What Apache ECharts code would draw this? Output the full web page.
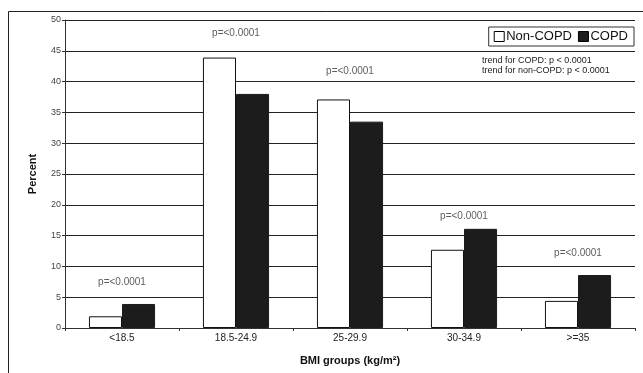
<!DOCTYPE html>
<html><head><meta charset="utf-8">
<script src="https://cdn.jsdelivr.net/npm/echarts@6/dist/echarts.min.js"></script>
<style>html,body{margin:0;padding:0;background:#fff}#c{width:643px;height:373px}</style>
</head><body><div id="c"></div>
<script>
const categories = ['<18.5', '18.5-24.9', '25-29.9', '30-34.9', '>=35'];
const nonCopd = [1.9, 43.9, 37.1, 12.7, 4.4];
const copd = [3.9, 38.0, 33.5, 16.1, 8.6];
const pLabels = ['p=<0.0001', 'p=<0.0001', 'p=<0.0001', 'p=<0.0001', 'p=<0.0001'];
const pLabelY = [7.4, 47.8, 41.7, 18.2, 12.2];
const yTicks = [0, 5, 10, 15, 20, 25, 30, 35, 40, 45, 50];
const trendLines = ['trend for COPD: p < 0.0001', 'trend for non-COPD: p < 0.0001'];

const font = 'Liberation Sans, Arial, sans-serif';
const chart = echarts.init(document.getElementById('c'), null, {renderer: 'canvas'});
chart.setOption({
  animation: false,
  backgroundColor: '#fff',
  textStyle: {fontFamily: font},
  grid: {left: 65, right: 8, top: 20, bottom: 45},
  legend: {
    data: ['Non-COPD', 'COPD'],
    right: 9, top: 27,
    padding: [3, 6, 3, 5],
    itemGap: 6,
    itemWidth: 10, itemHeight: 10,
    itemStyle: {borderColor: '#000', borderWidth: 1},
    icon: 'rect',
    borderColor: '#333', borderWidth: 1,
    textStyle: {fontSize: 13, color: '#111', fontFamily: font, padding: [0, 0, 0, -3]}
  },
  xAxis: {
    type: 'category', data: categories,
    name: 'BMI groups (kg/m²)', nameLocation: 'middle', nameGap: 27,
    nameTextStyle: {fontSize: 11, fontWeight: 'bold', color: '#111', fontFamily: font},
    axisLine: {lineStyle: {color: '#333'}},
    axisTick: {show: true, length: 3, lineStyle: {color: '#333'}},
    axisLabel: {fontSize: 10, color: '#222', margin: 5, fontFamily: font}
  },
  yAxis: {
    type: 'value', min: 0, max: 50, interval: 5,
    name: 'Percent', nameLocation: 'middle', nameGap: 27, nameRotate: 90,
    nameTextStyle: {fontSize: 11, fontWeight: 'bold', color: '#111', fontFamily: font},
    axisLine: {show: true, lineStyle: {color: '#333'}},
    axisTick: {show: true, length: 3, lineStyle: {color: '#333'}},
    axisLabel: {fontSize: 9, color: '#444', margin: 4, fontFamily: font,
      formatter: v => yTicks.includes(v) ? String(v) : ''},
    splitLine: {lineStyle: {color: '#222', width: 1}}
  },
  series: [
    {name: 'Non-COPD', type: 'bar', data: nonCopd, barGap: '0%', barCategoryGap: '42%',
      itemStyle: {color: '#fff', borderColor: '#111', borderWidth: 1}},
    {name: 'COPD', type: 'bar', data: copd,
      itemStyle: {color: '#1c1c1c', borderColor: '#1c1c1c', borderWidth: 1}},
    {name: 'p', type: 'scatter', symbolSize: 0, silent: true,
      data: pLabelY.map((y, i) => [categories[i], y]),
      label: {show: true, position: 'inside', fontSize: 10, color: '#333', fontFamily: font,
        formatter: p => pLabels[p.dataIndex]}}
  ],
  graphic: [
    {type: 'rect', shape: {x: 8.5, y: 11.5, width: 700, height: 400}, style: {fill: null, stroke: '#222', lineWidth: 1}, silent: true},
    {type: 'text', left: 482, top: 56, style: {text: trendLines.join('\n'), fontSize: 9, lineHeight: 9.5, fill: '#222', fontFamily: font}}
  ]
});
</script></body></html>
